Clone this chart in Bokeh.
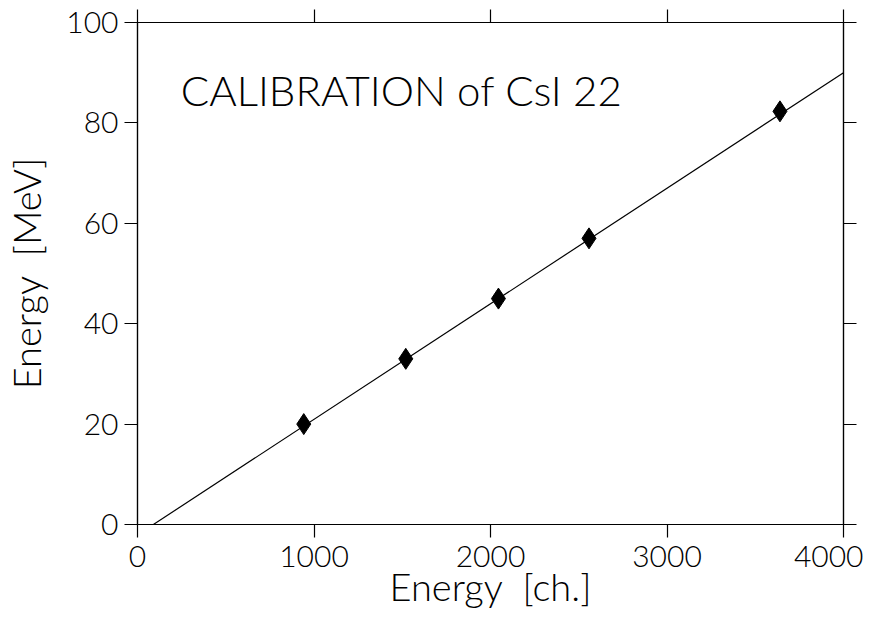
from bokeh.plotting import figure
from bokeh.models import LinearAxis, Label, Range1d, FixedTicker, CustomJSTickFormatter
from bokeh.embed import file_html
from bokeh.resources import INLINE

# data
ch = [942, 1520, 2045, 2558, 3640]
mev = [20.0, 33.0, 45.0, 57.0, 82.3]
fit_ch = [90, 4000]
fit_mev = [0.0, 90.0]
x_ticks = [0, 1000, 2000, 3000, 4000]
y_ticks = [0, 20, 40, 60, 80, 100]

FONT = "Lato Light"
NB = "\u00a0"

p = figure(frame_width=706, frame_height=502, output_backend="svg", toolbar_location=None,
           x_range=Range1d(0, 4000), y_range=Range1d(0, 100),
           min_border_left=137, min_border_right=20, min_border_top=22, min_border_bottom=10,
           x_axis_label="Energy" + NB * 2 + "[ch.]", y_axis_label="Energy" + NB * 2 + "[MeV]")
p.grid.visible = False
p.outline_line_color = "black"
p.outline_line_width = 1.2
p.background_fill_color = "white"
p.border_fill_color = "white"

p.line(fit_ch, fit_mev, line_color="black", line_width=1.2)
p.scatter(ch, mev, marker="diamond", size=21, fill_color="black", line_color="black")

def style_axis(ax, ticks, labels=True):
    ax.ticker = FixedTicker(ticks=ticks)
    ax.axis_line_color = "black"
    ax.axis_line_width = 1.2
    ax.major_tick_line_color = "black"
    ax.major_tick_line_width = 1.2
    ax.major_tick_out = 13
    ax.major_tick_in = 0
    ax.minor_tick_line_color = None
    ax.major_label_text_font = FONT
    ax.major_label_text_font_size = "30px"
    ax.major_label_text_color = "black"
    ax.axis_label_text_font = FONT
    ax.axis_label_text_font_size = "38px"
    ax.axis_label_text_font_style = "normal"
    ax.axis_label_text_color = "black"
    if not labels:
        ax.formatter = CustomJSTickFormatter(code="return ''")
        ax.major_label_text_font_size = "1px"
        ax.major_label_standoff = 0

for ax in p.xaxis:
    style_axis(ax, x_ticks)
    ax.major_label_standoff = 8
    ax.axis_label_standoff = -7
for ax in p.yaxis:
    style_axis(ax, y_ticks)
    ax.major_label_standoff = 6
    ax.axis_label_standoff = 14

top = LinearAxis()
style_axis(top, x_ticks, labels=False)
p.add_layout(top, "above")
right = LinearAxis()
style_axis(right, y_ticks, labels=False)
p.add_layout(right, "right")

title = Label(x=245, y=86.5, text="CALIBRATION of CsI 22", text_font=FONT,
              text_font_size="42px", text_color="black", text_baseline="alphabetic")
p.add_layout(title)

open("out.html", "w").write(file_html(p, INLINE))
